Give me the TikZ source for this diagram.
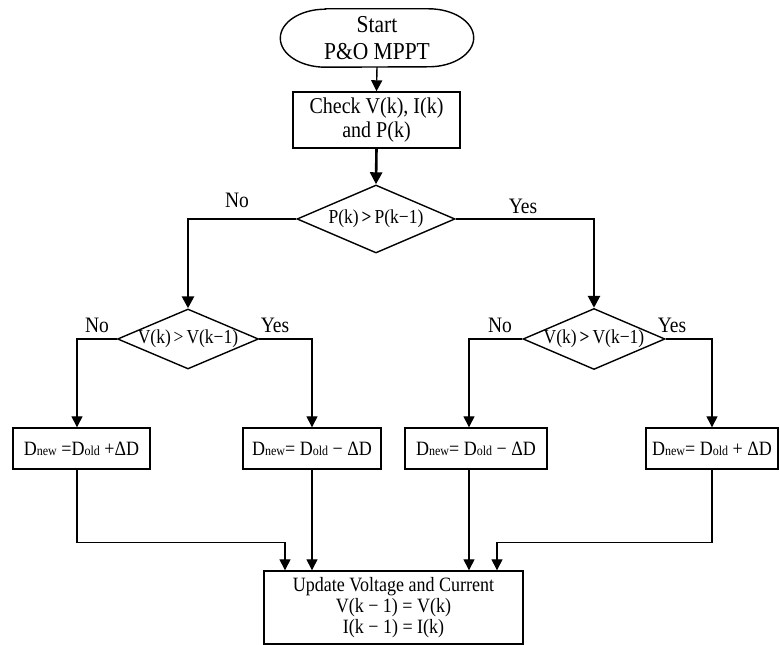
\documentclass[tikz,border=0pt]{standalone}
\usepackage{fontspec}
\usepackage{graphicx}
\setmainfont{Liberation Serif}
\usetikzlibrary{shapes.geometric,arrows.meta}
\newcommand\sm[1]{{\fontsize{12}{12}\selectfont #1}}
\newcommand\vs[1]{\scalebox{1}[1.13]{#1}}
\begin{document}
\begin{tikzpicture}[x=1pt,y=1pt,
  box/.style={draw, line width=1.4pt, rectangle, inner sep=2pt, align=center},
  dec/.style={draw, diamond, line width=1.4pt, aspect=2.3, inner sep=0pt, text height=9.5pt, text depth=0pt, font=\fontsize{17.5}{17.5}\selectfont},
  dbox/.style={box, minimum height=41pt, font=\fontsize{18}{18}\selectfont},
  thinarr/.style={line width=1.4pt, -{Triangle[length=11pt,width=11pt]}},
  thickarr/.style={line width=2.6pt, -{Triangle[length=12pt,width=12pt]}},
  plainline/.style={line width=1.4pt},
  lbl/.style={font=\fontsize{19.5}{20}\selectfont, inner sep=0}]
\useasboundingbox (0,0) rectangle (780,645);

% start terminal
\node[minimum width=193pt, minimum height=58pt, align=center, font=\fontsize{21.5}{27}\selectfont, inner sep=0] (start) at (377,607) {\vs{Start}\\\vs{P\&O MPPT}};
\draw[plainline] ([xshift=45pt]start.north west) -- ([xshift=-45pt]start.north east)
  arc[start angle=90,end angle=-90,x radius=45pt,y radius=29pt]
  -- ([xshift=45pt]start.south west)
  arc[start angle=270,end angle=90,x radius=45pt,y radius=29pt] -- cycle;

\node[box, minimum width=167pt, minimum height=56pt, font=\fontsize{20}{24.5}\selectfont] (check) at (376.5,525) {\vs{Check V(k), I(k)}\\\vs{and P(k)}};

\node[dec, minimum width=158pt, minimum height=68pt] (d1) at (376,426) {\vs{P(k)\,\textbf{>}\,P(k−1)}};
\node[dec, minimum width=141pt, minimum height=60pt] (d2) at (188,306) {\vs{V(k)\,>\,V(k−1)}};
\node[dec, minimum width=142pt, minimum height=61pt] (d3) at (594,306) {\vs{V(k)\,\textbf{>}\,V(k−1)}};

\node[dbox, minimum width=137pt] (D1) at (81.5,196.5) {\vs{D\sm{new} =D\sm{old} +ΔD}};
\node[dbox, minimum width=138pt] (D2) at (312,196.5) {\vs{D\sm{new}= D\sm{old} − ΔD}};
\node[dbox, minimum width=142pt] (D3) at (476,196.5) {\vs{D\sm{new}= D\sm{old} − ΔD}};
\node[dbox, minimum width=132pt] (D4) at (712,196.5) {\vs{D\sm{new}= D\sm{old} + ΔD}};

\node[box, minimum width=259pt, minimum height=73pt, font=\fontsize{18}{21}\selectfont] (upd) at (393.5,37.5) {\vs{Update Voltage and Current}\\\vs{V(k − 1) = V(k)}\\\vs{I(k − 1) = I(k)}};

% labels
\node[lbl] (no1) at (237,445) {\vs{No}};
\node[lbl] (yes1) at (523,439) {\vs{Yes}};
\node[lbl] (no2) at (97,320) {\vs{No}};
\node[lbl] (yes2) at (275,320) {\vs{Yes}};
\node[lbl] (no3) at (500,320) {\vs{No}};
\node[lbl] (yes3) at (672,320) {\vs{Yes}};

% connectors
\draw[thinarr] (start.south) -- (check.north);
\draw[thickarr] (check.south) -- (d1.north);
\draw[thickarr] (d1.west) -| (d2.north);
\draw[thickarr] (d1.east) -| (d3.north);
\draw[thinarr] (d2.west) -| ([xshift=-4.5pt]D1.north);
\draw[thinarr] (d2.east) -| (D2.north);
\draw[thinarr] (d3.west) -| ([xshift=-7pt]D3.north);
\draw[thinarr] (d3.east) -| (D4.north);
\draw[thinarr] ([xshift=-4.5pt]D1.south) |- ++(208pt,-73pt) -- ([xshift=-108.5pt]upd.north);
\draw[thinarr] (D2.south) -- (D2.south |- upd.north);
\draw[thinarr] ([xshift=-7pt]D3.south) -- ([xshift=-7pt]D3.south |- upd.north);
\draw[thinarr] (D4.south) |- ++(-215pt,-73pt) -- ([xshift=103.5pt]upd.north);
\end{tikzpicture}
\end{document}
